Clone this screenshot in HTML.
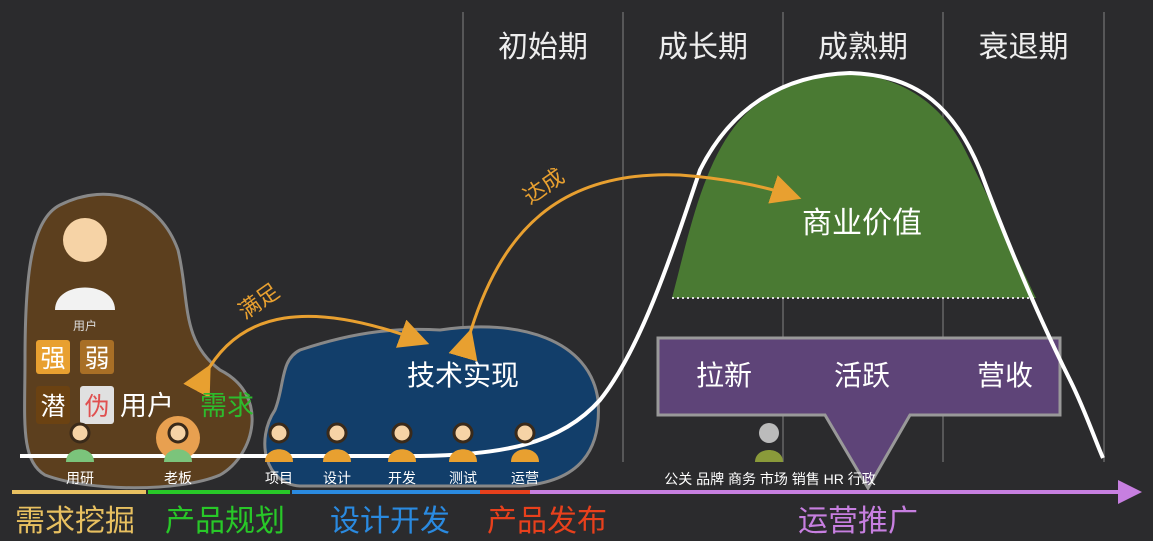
<!DOCTYPE html>
<html><head><meta charset="utf-8">
<style>
html,body{margin:0;padding:0;background:#2b2b2d;}
svg{display:block}
text{font-family:"Liberation Sans","Noto Sans CJK SC","WenQuanYi Zen Hei",sans-serif;}
</style></head>
<body>
<svg id="c" width="1153" height="541" viewBox="0 0 1153 541">
<rect width="1153" height="541" fill="#2b2b2d"/>
<g id="grid"></g>
<g id="stages"></g>

<!-- green value area -->
<path d="M672,298 C690,230 705,150 750,110 C790,78 830,70 860,74 C900,80 940,100 965,150 C990,200 1015,255 1036,298 Z" fill="#4a7a33"/>
<line x1="672" y1="298" x2="1036" y2="298" stroke="#ddd" stroke-width="2" stroke-dasharray="2,3"/>
<text x="862" y="233" font-size="30" fill="#fff" text-anchor="middle">商业价值</text>

<!-- brown blob -->
<path d="M60,205 C110,180 160,200 178,250 C190,300 180,340 220,370 C270,395 255,455 220,475 C180,492 90,492 45,475 C20,460 25,420 25,360 C25,280 30,220 60,205 Z" fill="#5c3f1e" stroke="#888" stroke-width="3"/>
<!-- blue blob -->
<path d="M300,350 C360,330 400,328 440,330 C520,318 590,340 598,400 C602,450 580,482 520,486 L300,486 C265,484 255,440 275,410 C285,385 280,360 300,350 Z" fill="#123e6a" stroke="#888" stroke-width="3"/>
<text x="463" y="385" font-size="28" fill="#fff" text-anchor="middle">技术实现</text>

<!-- purple box -->
<path d="M658,338 L1060,338 L1060,415 L910,415 L868,488 L825,415 L658,415 Z" fill="#5e4478" stroke="#999" stroke-width="3"/>
<text x="724" y="385" font-size="28" fill="#fff" text-anchor="middle">拉新</text>
<text x="862" y="385" font-size="28" fill="#fff" text-anchor="middle">活跃</text>
<text x="1005" y="385" font-size="28" fill="#fff" text-anchor="middle">营收</text>

<!-- lifecycle curve -->
<path d="M20,456 L420,456 C500,455 560,445 600,400 C640,350 670,260 700,170 C730,110 780,75 850,73 C920,75 955,110 980,170 C1010,250 1040,320 1070,380 C1085,410 1095,440 1103,458" fill="none" stroke="#fff" stroke-width="4"/>

<!-- arrows -->
<defs><marker id="ah" markerWidth="10" markerHeight="10" refX="6" refY="5" orient="auto"><path d="M0,0 L10,5 L0,10 Z" fill="#e8a030"/></marker>
<marker id="pa" markerWidth="6" markerHeight="6" refX="3" refY="3" orient="auto"><path d="M0,0 L6,3 L0,6 Z" fill="#c77fe0"/></marker></defs>
<path d="M205,375 C240,310 310,300 418,340" fill="none" stroke="#e8a030" stroke-width="3" marker-start="url(#ah)" marker-end="url(#ah)"/>
<path d="M468,340 C500,230 560,170 680,175 C720,178 760,185 790,195" fill="none" stroke="#e8a030" stroke-width="3" marker-start="url(#ah)" marker-end="url(#ah)"/>
<text x="245" y="320" font-size="22" fill="#e8a030" transform="rotate(-35 245 320)">满足</text>
<text x="530" y="205" font-size="22" fill="#e8a030" transform="rotate(-35 530 205)">达成</text>

<!-- user block -->
<circle cx="85" cy="240" r="22" fill="#f6d3a6"/>
<path d="M55,310 C55,280 115,280 115,310 Z" fill="#f2f2f2"/>
<text x="85" y="330" font-size="12" fill="#ddd" text-anchor="middle">用户</text>
<rect x="36" y="340" width="34" height="34" rx="3" fill="#e8a030"/>
<text x="53" y="367" font-size="25" fill="#fff" text-anchor="middle">强</text>
<rect x="80" y="340" width="34" height="34" rx="3" fill="#a86f26"/>
<text x="97" y="367" font-size="25" fill="#fff" text-anchor="middle">弱</text>
<rect x="36" y="386" width="34" height="38" rx="3" fill="#6b4212"/>
<text x="53" y="415" font-size="25" fill="#fff" text-anchor="middle">潜</text>
<rect x="80" y="386" width="34" height="38" rx="3" fill="#e0e0e0"/>
<text x="97" y="415" font-size="25" fill="#e05050" text-anchor="middle">伪</text>
<text x="120" y="415" font-size="27" fill="#fff">用户</text>
<text x="200" y="415" font-size="27" fill="#2dbb2d">需求</text>

<g id="people"></g>

<text x="770" y="484" font-size="14" fill="#fff" text-anchor="middle">公关 品牌 商务 市场 销售 HR 行政</text>

<g id="phases"></g>
</svg>
<script>
const stageNames=["初始期","成长期","成熟期","衰退期"];
const stageBounds=[463,623,783,943,1104];
const roleNames=["用研","老板","项目","设计","开发","测试","运营"];
const roleX=[80,178,279,337,402,463,525];
const phaseNames=["需求挖掘","产品规划","设计开发","产品发布","运营推广"];
const phaseColors=["#e8c060","#28c828","#2a8ae0","#e8401c","#c77fe0"];
const phaseStart=[12,148,292,480,530];
const phaseEnd=[146,290,480,530,1130];
const phaseLabelX=[15,165,330,487,798];
const NS="http://www.w3.org/2000/svg";
function mk(t,a,p){const e=document.createElementNS(NS,t);for(const k in a)e.setAttribute(k,a[k]);p.appendChild(e);return e;}
const grid=document.getElementById('grid'),stages=document.getElementById('stages');
stageBounds.forEach((x,i)=>{const l=mk('line',{x1:x,y1:12,x2:x,y2:462,stroke:'#666','stroke-width':1.5},grid);

});
stageNames.forEach((s,i)=>{const t=mk('text',{x:(stageBounds[i]+stageBounds[i+1])/2,y:57,'font-size':30,fill:'#eee','text-anchor':'middle'},stages);t.textContent=s;

});
const people=document.getElementById('people');
roleNames.forEach((r,i)=>{const x=roleX[i];
if(i==1){const bg=mk('circle',{cx:x,cy:438,r:22,fill:'#e8a050'},people);}
const b=mk('path',{d:`M${x-14},462 C${x-14},445 ${x+14},445 ${x+14},462 Z`,fill:i<2?'#7bc47b':'#e8a030'},people);


const h=mk('circle',{cx:x,cy:433,r:9,fill:'#f6d3a6',stroke:'#3a2a1a','stroke-width':3},people);


const t=mk('text',{x:x,y:483,'font-size':14,fill:'#fff','text-anchor':'middle'},people);t.textContent=r;

});
const ops=mk('circle',{cx:769,cy:433,r:10,fill:'#bbb'},people);


const ob=mk('path',{d:'M755,462 C755,446 783,446 783,462 Z',fill:'#8a9a3a'},people);


const ph=document.getElementById('phases');
phaseNames.forEach((n,i)=>{const l=mk('line',{x1:phaseStart[i],y1:492,x2:phaseEnd[i],y2:492,stroke:phaseColors[i],'stroke-width':4},ph);
if(i==phaseNames.length-1)l.setAttribute('marker-end','url(#pa)');


const t=mk('text',{x:phaseLabelX[i],y:531,'font-size':30,fill:phaseColors[i]},ph);t.textContent=n;

});
</script>
</body></html>
